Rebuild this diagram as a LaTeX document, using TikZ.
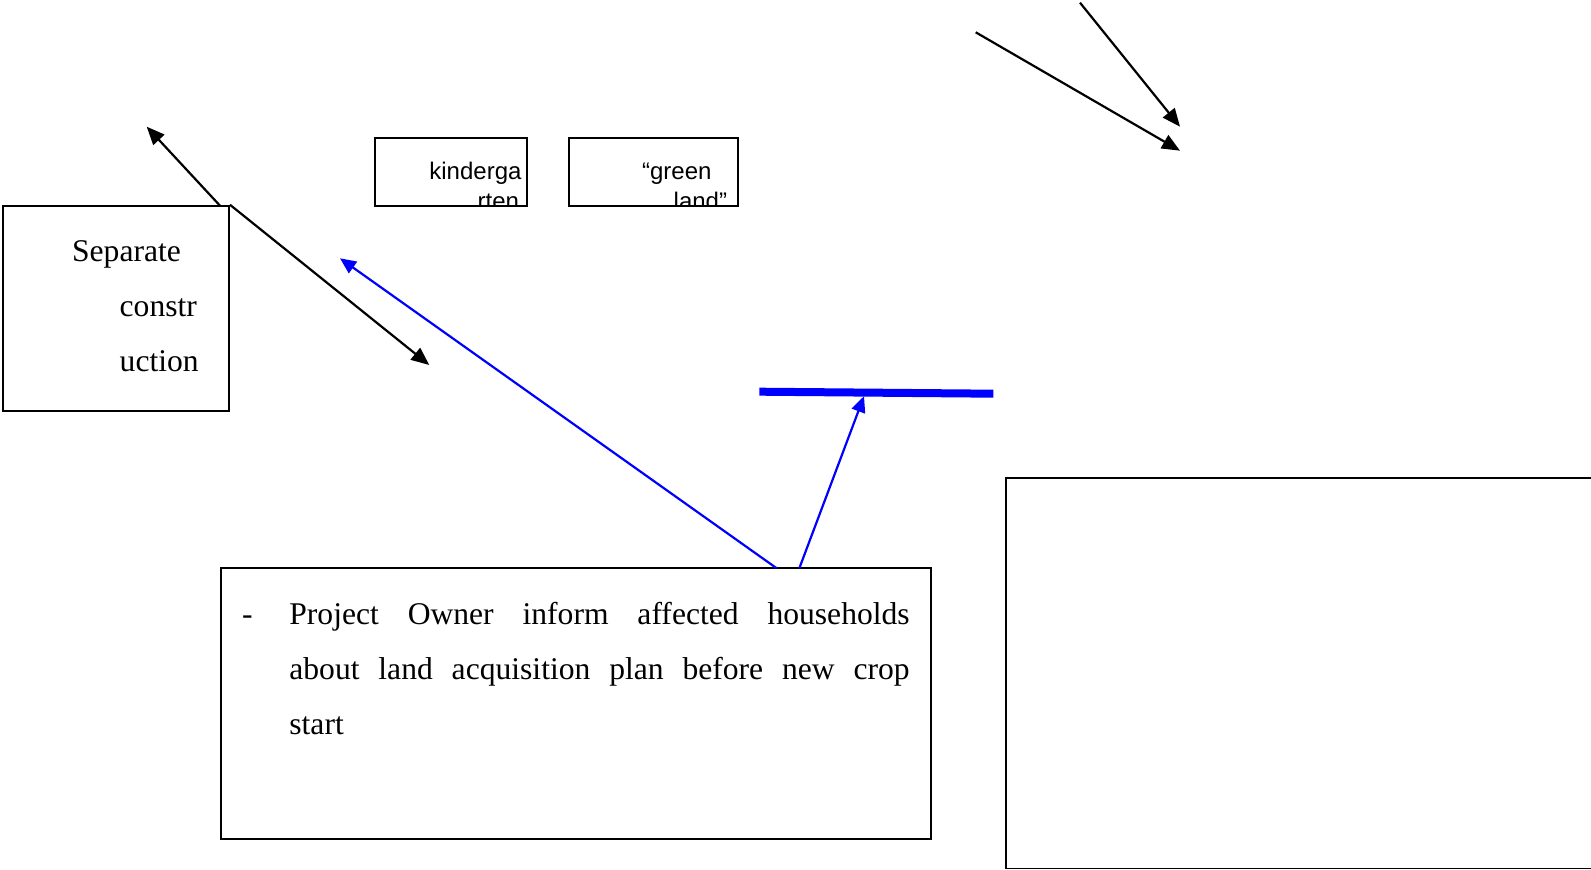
\documentclass[tikz,border=0pt]{standalone}
\usepackage{fontspec}
\setmainfont{Liberation Serif}
\newfontfamily\arialfont{Liberation Sans}
\usetikzlibrary{arrows.meta}
\begin{document}
\begin{tikzpicture}[x=0.5pt,y=-0.5pt,
  box/.style={draw=black,line width=0.95pt,rectangle,inner sep=0pt,fill=white},
  txt/.style={anchor=base west,inner sep=0pt,font=\fontsize{15.8}{18}\selectfont},
  small/.style={anchor=base west,inner sep=0pt,font=\arialfont\fontsize{12}{14}\selectfont},
  blk/.style={draw=black,line width=1.1pt,-{Triangle[length=9pt,width=7.5pt]}},
  blu/.style={draw=blue,line width=1.1pt,-{Triangle[length=8pt,width=7pt]}},
]
\useasboundingbox (0,0) rectangle (1591,870);

% boxes
\node[box,minimum width=112.85pt,minimum height=102.65pt] (sep) at (116.15,308.35) {};
\node[box,minimum width=75.85pt,minimum height=34pt] (kinder) at (450.85,171.7) {};
\node[box,minimum width=84.35pt,minimum height=34pt] (green) at (653.35,171.7) {};
\node[box,minimum width=355.15pt,minimum height=135.5pt] (owner) at (575.85,703.8) {};
\begin{scope}
\clip (0,0) rectangle (1591,870);
\node[box,minimum width=347pt,minimum height=195.4pt] (right) at (1353,673.1) {};
\end{scope}

% texts of Separate box
\node[txt] (sep1) at (71.7,261.7) {Separate};
\node[txt] (sep2) at (119.3,316.7) {constr};
\node[txt] (sep3) at (119.3,371.7) {uction};

% clipped texts of small boxes
\begin{scope}
\clip (kinder.south west) rectangle (kinder.north east);
\node[small] (k1) at (429,180) {kinderga};
\node[small] (k2) at (477.3,210) {rten};
\end{scope}
\begin{scope}
\clip (green.south west) rectangle (green.north east);
\node[small] (g1) at (641.7,180) {“green};
\node[small] (g2) at (673.3,210) {land”};
\end{scope}

% text of owner box
\node[txt] (dash) at (241.7,625) {-};
\node[txt] (o1) at (289,625) {\makebox[310.15pt][s]{Project Owner inform affected households}};
\node[txt] (o2) at (289,679.3) {\makebox[310.15pt][s]{about land acquisition plan before new crop}};
\node[txt] (o3) at (289,734.3) {start};

% coordinates
\coordinate (a1s) at (220,205.7);
\coordinate (a1e) at (146.7,126.7);
\coordinate (a2e) at (429.3,365);
\coordinate (b1s) at (776.7,568.3);
\coordinate (b1e) at (340,258.3);
\coordinate (b2s) at (799.3,568.3);
\coordinate (b2e) at (864,396.2);
\coordinate (barL) at (759.3,391.7);
\coordinate (barR) at (993.3,393.7);
\coordinate (tAs) at (1080,2.7);
\coordinate (tAe) at (1180,126.7);
\coordinate (tBs) at (975.7,32.3);
\coordinate (tBe) at (1180,150.7);

% connectors
\draw[blk] (a1s) -- (a1e);
\draw[blk] (sep.north east) -- (a2e);
\draw[blu] (b1s) -- (b1e);
\draw[blue,line width=4pt] (barL) -- (barR);
\draw[blu] (b2s) -- (b2e);
\draw[blk] (tAs) -- (tAe);
\draw[blk] (tBs) -- (tBe);
\end{tikzpicture}
\end{document}
